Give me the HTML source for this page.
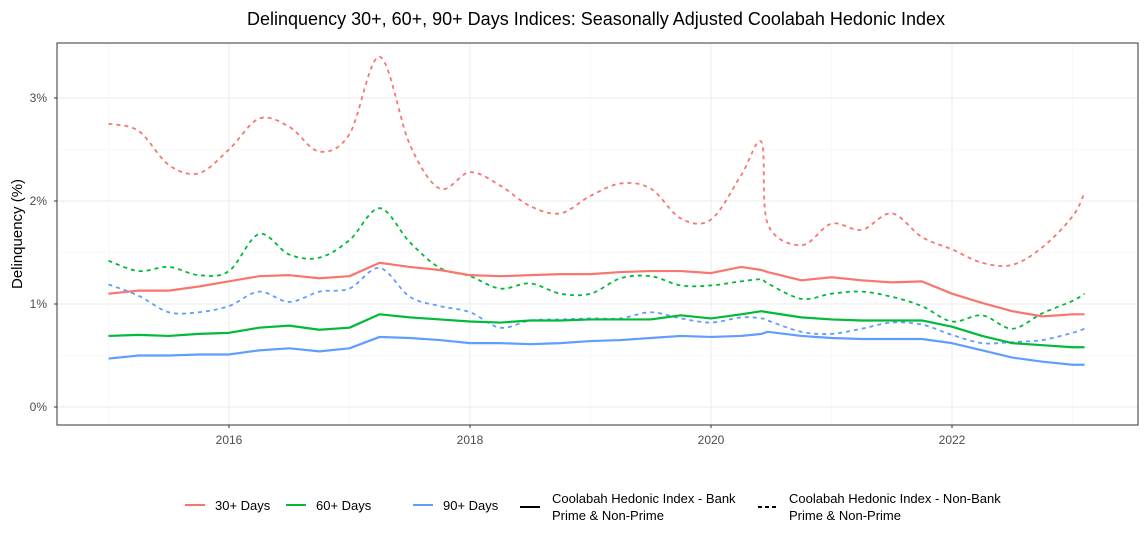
<!DOCTYPE html>
<html><head><meta charset="utf-8"><style>
body{margin:0;background:#fff;font-family:"Liberation Sans",Arial,sans-serif}
svg text{font-family:"Liberation Sans",Arial,sans-serif}
</style></head><body>
<svg id="chart" width="1145" height="539" viewBox="0 0 1145 539" xmlns="http://www.w3.org/2000/svg">
<rect width="1145" height="539" fill="#fff"/>
<text x="596" y="25" text-anchor="middle" font-size="18" fill="#000">Delinquency 30+, 60+, 90+ Days Indices: Seasonally Adjusted Coolabah Hedonic Index</text>
<g id="grid"></g>
<g id="series"></g>
<rect x="57" y="43" width="1081" height="382" fill="none" stroke="#333" stroke-width="1"/>
<g id="axes"></g>
<text transform="translate(22,234) rotate(-90)" text-anchor="middle" font-size="15" fill="#000">Delinquency (%)</text>
<g font-size="13" fill="#000">
<g><line x1="185" y1="505" x2="205" y2="505" stroke="#F8766D" stroke-width="2"/><text x="215" y="510">30+ Days</text></g>
<g><line x1="286" y1="505" x2="306" y2="505" stroke="#00BA38" stroke-width="2"/><text x="316" y="510">60+ Days</text></g>
<g><line x1="413" y1="505" x2="433" y2="505" stroke="#619CFF" stroke-width="2"/><text x="443" y="510">90+ Days</text></g>
<g><line x1="520" y1="507" x2="540" y2="507" stroke="#000" stroke-width="2"/><text x="552" y="503">Coolabah Hedonic Index - Bank</text><text x="552" y="520">Prime &amp; Non-Prime</text></g>
<g><line x1="758" y1="507" x2="778" y2="507" stroke="#000" stroke-width="2" stroke-dasharray="4,3"/><text x="789" y="503">Coolabah Hedonic Index - Non-Bank</text><text x="789" y="520">Prime &amp; Non-Prime</text></g>
</g>
</svg>
<script>
const dates=[2015,2015.25,2015.5,2015.75,2016,2016.25,2016.5,2016.75,2017,2017.25,2017.5,2017.75,2018,2018.25,2018.5,2018.75,2019,2019.25,2019.5,2019.75,2020,2020.25,2020.42,2020.47,2020.75,2021,2021.25,2021.5,2021.75,2022,2022.25,2022.5,2022.75,2023,2023.1];
const d30NonBank=[2.75,2.68,2.35,2.27,2.50,2.80,2.72,2.48,2.65,3.40,2.55,2.12,2.28,2.15,1.95,1.88,2.05,2.17,2.12,1.83,1.82,2.25,2.57,1.78,1.57,1.78,1.72,1.88,1.65,1.53,1.40,1.38,1.55,1.85,2.08];
const d30Bank=[1.10,1.13,1.13,1.17,1.22,1.27,1.28,1.25,1.27,1.40,1.36,1.33,1.28,1.27,1.28,1.29,1.29,1.31,1.32,1.32,1.30,1.36,1.33,1.31,1.23,1.26,1.23,1.21,1.22,1.10,1.01,0.93,0.88,0.90,0.90];
const d60NonBank=[1.42,1.32,1.36,1.28,1.32,1.68,1.48,1.45,1.62,1.93,1.60,1.35,1.27,1.15,1.20,1.10,1.10,1.25,1.27,1.18,1.18,1.22,1.24,1.20,1.05,1.10,1.12,1.07,0.98,0.83,0.89,0.76,0.91,1.03,1.10];
const d60Bank=[0.69,0.70,0.69,0.71,0.72,0.77,0.79,0.75,0.77,0.90,0.87,0.85,0.83,0.82,0.84,0.84,0.85,0.85,0.85,0.89,0.86,0.90,0.93,0.92,0.87,0.85,0.84,0.84,0.84,0.78,0.69,0.62,0.60,0.58,0.58];
const d90NonBank=[1.19,1.08,0.92,0.92,0.98,1.12,1.02,1.12,1.15,1.35,1.07,0.98,0.92,0.77,0.84,0.85,0.86,0.86,0.92,0.86,0.82,0.87,0.86,0.84,0.73,0.71,0.76,0.82,0.80,0.70,0.62,0.63,0.65,0.72,0.76];
const d90Bank=[0.47,0.50,0.50,0.51,0.51,0.55,0.57,0.54,0.57,0.68,0.67,0.65,0.62,0.62,0.61,0.62,0.64,0.65,0.67,0.69,0.68,0.69,0.71,0.73,0.69,0.67,0.66,0.66,0.66,0.62,0.55,0.48,0.44,0.41,0.41];
const yTicks=[0,1,2,3];
const yTickLabels=["0%","1%","2%","3%"];
const xTicks=[2016,2018,2020,2022];
const xTickLabels=["2016","2018","2020","2022"];

const NS="http://www.w3.org/2000/svg";
const X=v=>229+(v-2016)*120.5;
const Y=v=>407-v*103;
function mk(tag,attrs,parent){const e=document.createElementNS(NS,tag);for(const k in attrs)e.setAttribute(k,attrs[k]);parent.appendChild(e);return e;}
const grid=document.getElementById('grid'),axes=document.getElementById('axes'),ser=document.getElementById('series');
for(let v=-0.5;v<=3.5;v+=0.5){const y=Y(v);if(y<43||y>425)continue;const major=Number.isInteger(v);
 const l=mk('line',{x1:57,x2:1138,y1:y,y2:y,stroke:major?'#ebebeb':'#f3f3f3','stroke-width':major?1:0.6},grid);
 
 }
for(let v=2015;v<=2023;v++){const x=X(v);const major=v%2===0;
 const l=mk('line',{x1:x,x2:x,y1:43,y2:425,stroke:major?'#ebebeb':'#f3f3f3','stroke-width':major?1:0.6},grid);
 
 }
yTicks.forEach((v,i)=>{const t=mk('text',{x:47,y:Y(v)+4,'text-anchor':'end','font-size':12,fill:'#4d4d4d'},axes);t.textContent=yTickLabels[i];
 
 
 mk('line',{x1:54,x2:57,y1:Y(v),y2:Y(v),stroke:'#333'},axes);});
xTicks.forEach((v,i)=>{const t=mk('text',{x:X(v),y:444,'text-anchor':'middle','font-size':12,fill:'#4d4d4d'},axes);t.textContent=xTickLabels[i];
 
 
 mk('line',{x1:X(v),x2:X(v),y1:425,y2:428,stroke:'#333'},axes);});
function smoothPath(vals){const p=vals.map((v,i)=>[X(dates[i]),Y(v)]);let d='M'+p[0][0]+','+p[0][1];
 for(let i=0;i<p.length-1;i++){const p0=p[i-1]||p[i],p1=p[i],p2=p[i+1],p3=p[i+2]||p2;
  const c1=[p1[0]+(p2[0]-p0[0])/6,p1[1]+(p2[1]-p0[1])/6],c2=[p2[0]-(p3[0]-p1[0])/6,p2[1]-(p3[1]-p1[1])/6];
  d+=` C${c1[0]},${c1[1]} ${c2[0]},${c2[1]} ${p2[0]},${p2[1]}`;}return d;}
function linePath(vals){return vals.map((v,i)=>(i?'L':'M')+X(dates[i])+','+Y(v)).join(' ');}
const list=[[d30NonBank,'#F8766D',true,'line-30-nonbank'],[d60NonBank,'#00BA38',true,'line-60-nonbank'],[d90NonBank,'#619CFF',true,'line-90-nonbank'],
 [d30Bank,'#F8766D',false,'line-30-bank'],[d60Bank,'#00BA38',false,'line-60-bank'],[d90Bank,'#619CFF',false,'line-90-bank']];
list.forEach(([vals,c,dash,name])=>{const a={d:dash?smoothPath(vals):linePath(vals),fill:'none',stroke:c,'stroke-width':dash?1.8:2.2,'stroke-linejoin':'round'};if(dash)a['stroke-dasharray']='4,4';
 const p=mk('path',a,ser);
 
 });
</script>
</body></html>
